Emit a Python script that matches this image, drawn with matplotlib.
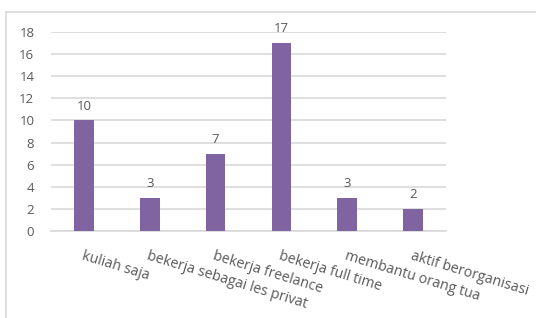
#!/usr/bin/env python3
"""Bar chart: kegiatan mahasiswa."""
import matplotlib.pyplot as plt
import numpy as np
from matplotlib.lines import Line2D

categories = ['kuliah saja', 'bekerja sebagai les privat', 'bekerja freelance',
              'bekerja full time', 'membantu orang tua', 'aktif berorganisasi']
values = [10, 3, 7, 17, 3, 2]
yticks = [0, 2, 4, 6, 8, 10, 12, 14, 16, 18]

plt.rcParams['font.family'] = ['Open Sans', 'DejaVu Sans']
txt = '#595959'

fig = plt.figure(figsize=(5.36, 3.18), dpi=100)
ax = fig.add_axes([0.0951, 0.2736, 0.7369, 0.6258])

x = np.arange(len(categories))
bars = ax.bar(x, values, width=0.3, color='#8064A2', zorder=3)
for xi, v in zip(x, values):
    ax.text(xi, v + 0.7, str(v), ha='center', va='bottom', fontsize=9.5, color=txt)

ax.set_xlim(-0.5, len(categories) - 0.5)
ax.set_ylim(0, 18)
ax.set_yticks(yticks)
ax.set_yticklabels([str(t) for t in yticks], fontsize=9.5, color=txt)
ax.yaxis.grid(True, color='#D9D9D9', lw=1.2, zorder=0)
ax.tick_params(axis='y', length=0, pad=12)
ax.tick_params(axis='x', length=0)
ax.set_xticks(x)
ax.set_xticklabels([])
for s in ['top', 'right', 'left']:
    ax.spines[s].set_visible(False)
ax.spines['bottom'].set_color('#D9D9D9')
ax.spines['bottom'].set_linewidth(1.2)

# rotated category labels
for xi, lab in zip(x, categories):
    ax.annotate(lab, xy=(xi, 0), xycoords='data', xytext=(0, -13),
                textcoords='offset points', rotation=-17, rotation_mode='anchor',
                ha='left', va='top', fontsize=10.2, color=txt)

# outer chart frame (partial)
fig.add_artist(Line2D([0.012, 0.012], [0.0, 0.962], color='#D9D9D9', lw=1.2))
fig.add_artist(Line2D([0.012, 1.0], [0.962, 0.962], color='#D9D9D9', lw=1.2))

fig.savefig('out.png', dpi=100)
